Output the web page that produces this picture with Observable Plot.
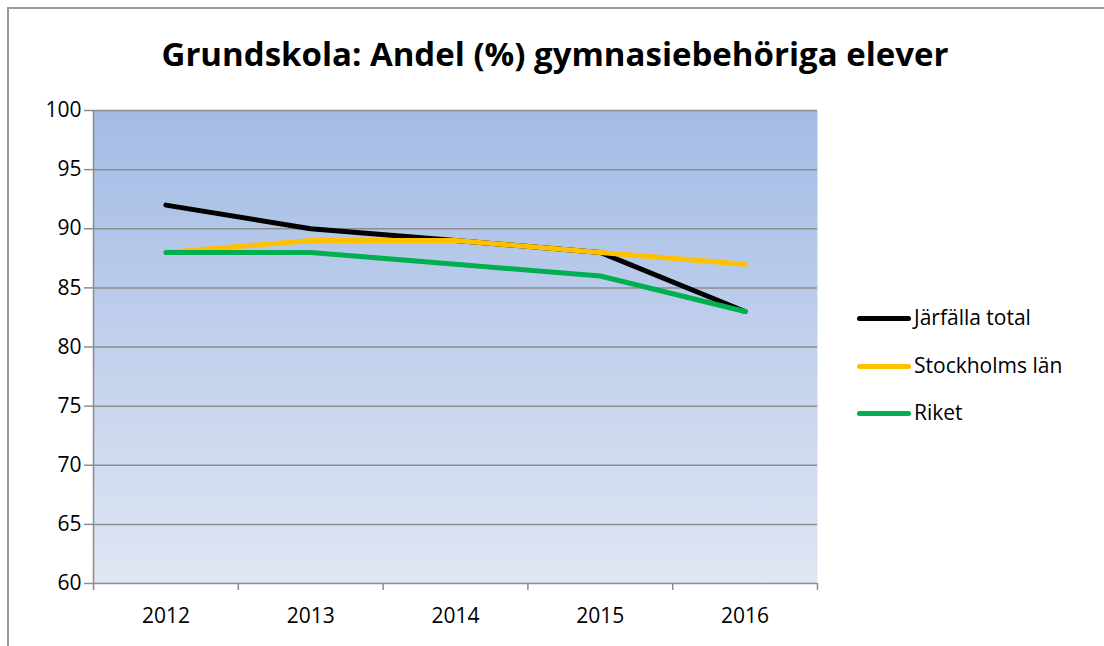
<!DOCTYPE html>
<html><head><meta charset="utf-8">
<script src="https://cdn.jsdelivr.net/npm/d3@7"></script>
<script src="https://cdn.jsdelivr.net/npm/@observablehq/plot@0.6"></script>
<style>
body{margin:0;background:#fff;width:1104px;height:646px;overflow:hidden;position:relative;font-family:"Open Sans",sans-serif;}
#border{position:absolute;left:7px;top:7px;width:1110px;height:700px;border-left:2px solid #9a9a9a;border-top:2px solid #9a9a9a;}
#title{position:absolute;left:0;top:34px;width:1110px;text-align:center;font-size:33px;line-height:40px;font-weight:bold;color:#000;}
#chart{position:absolute;left:0;top:80px;}
#legend{position:absolute;left:857px;top:0;}
.item{position:absolute;left:0;white-space:nowrap;font-size:21px;}
.item span.sw{position:absolute;left:0;width:54px;height:5px;border-radius:3px;}
.item span.lb{position:absolute;left:57px;line-height:24px;top:-13px;}
</style></head>
<body>
<div id="border"></div>
<div id="title">Grundskola: Andel (%) gymnasiebehöriga elever</div>
<div id="chart"></div>
<div id="legend"></div>
<script>
const years = [2012, 2013, 2014, 2015, 2016];
const jarfalla = [92, 90, 89, 88, 83];
const stockholm = [88, 89, 89, 88, 87];
const riket = [88, 88, 87, 86, 83];
const seriesNames = ["Järfälla total", "Stockholms län", "Riket"];
const seriesColors = ["#000000", "#FFC000", "#00B050"];
const yTicks = [60, 65, 70, 75, 80, 85, 90, 95, 100];

const seriesValues = [jarfalla, stockholm, riket];
const rows = [];
seriesNames.forEach((s, i) => years.forEach((yr, j) => rows.push({series: s, year: yr, value: seriesValues[i][j]})));
const boundaries = [years[0] - 0.5, ...years.map(y => y + 0.5)];

const plot = Plot.plot({
  width: 1104,
  height: 566,
  marginTop: 30,
  marginBottom: 63,
  marginLeft: 93,
  marginRight: 287,
  style: {fontFamily: "'Open Sans', sans-serif", background: "transparent"},
  x: {type: "linear", domain: [years[0] - 0.5, years[years.length - 1] + 0.5], label: null},
  y: {domain: [60, 100], label: null},
  color: {domain: seriesNames, range: seriesColors},
  marks: [
    Plot.frame({fill: "url(#bgGrad)", stroke: "none"}),
    Plot.ruleY(yTicks.slice(1), {stroke: "#8c8c8c", strokeWidth: 1.5}),
    Plot.ruleY([60], {stroke: "#8c8c8c", strokeWidth: 1.5}),
    Plot.ruleX([boundaries[0]], {y1: 60, y2: 100, stroke: "#8c8c8c", strokeWidth: 1.5}),
    Plot.axisY({ticks: yTicks, label: null, tickSize: 9, tickPadding: 3, stroke: "#8c8c8c", strokeWidth: 1.5, fontSize: 21, fill: "#000", tickFormat: d => String(d)}),
    Plot.axisX({ticks: boundaries, label: null, tickSize: 7, stroke: "#8c8c8c", strokeWidth: 1.5, tickFormat: () => ""}),
    Plot.axisX({ticks: years, label: null, tickSize: 0, tickPadding: 25, fontSize: 21, fill: "#000", tickFormat: d => String(d)}),
    Plot.line(rows, {x: "year", y: "value", z: "series", stroke: "series", strokeWidth: 5, strokeLinecap: "round", strokeLinejoin: "round"})
  ]
});

const svg = d3.select(plot);
const defs = svg.insert("defs", ":first-child");
const grad = defs.append("linearGradient").attr("id", "bgGrad").attr("x1", 0).attr("y1", 0).attr("x2", 0).attr("y2", 1);
grad.append("stop").attr("offset", "0%").attr("stop-color", "#a3bbe5");
grad.append("stop").attr("offset", "100%").attr("stop-color", "#e0e6f3");
svg.selectAll("text").attr("fill", "#000");
document.getElementById("chart").appendChild(plot);

const legend = document.getElementById("legend");
const legendTops = [318, 366, 413];
seriesNames.forEach((s, i) => {
  const d = document.createElement("div");
  d.className = "item";
  d.style.top = legendTops[i] + "px";
  d.innerHTML = `<span class="sw" style="background:${seriesColors[i]};top:-2px"></span><span class="lb">${s}</span>`;
  legend.appendChild(d);
});
</script>
</body></html>
